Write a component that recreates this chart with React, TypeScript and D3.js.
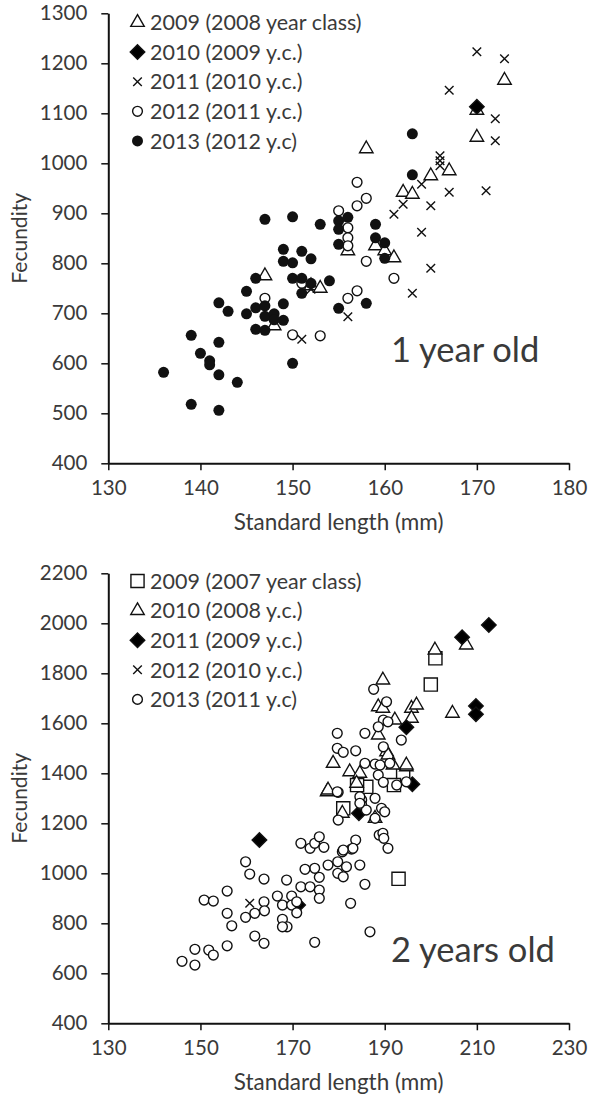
import { useEffect, useRef } from "react";
import * as d3 from "d3";

// ---- 1 year old panel: [standard length, fecundity]
const top2009 = [[158,1029],[173,1166],[170,1106],[170,1052],[167,985],[165,975],[162,942],[163,938],[156,825],[159,835],[160,825],[161,811],[148,675],[147,775],[152,755],[153,750]];
const top2010 = [[170,1113]];
const top2011 = [[170,1223],[173,1209],[167,1146],[172,1089],[172,1045],[166,1015],[166,1005],[166,995],[164,958],[167,942],[171,945],[162,918],[165,915],[161,898],[164,862],[165,790],[163,740],[156,693],[151,648],[152,748]];
const top2012 = [[157,962],[158,930],[157,915],[155,905],[156,871],[156,851],[156,835],[158,804],[150,657],[153,655],[147,730],[156,730],[157,745],[161,770],[151,760]];
const top2013 = [[136,582],[139,518],[139,656],[140,620],[141,605],[141,597],[142,721],[142,642],[142,577],[142,506],[143,704],[144,562],[145,744],[145,699],[146,711],[146,668],[147,715],[147,666],[147,694],[148,699],[148,687],[149,719],[149,686],[147,888],[150,893],[153,878],[155,885],[156,892],[155,868],[155,838],[159,878],[159,851],[160,841],[149,828],[151,824],[149,804],[150,801],[152,809],[150,600],[163,1059],[163,977],[150,770],[151,770],[152,760],[151,740],[154,765],[155,710],[158,720],[146,770],[160,810]];

// ---- 2 years old panel
const bot2009 = [[201,1860],[200,1755],[194,1393],[192,1353],[186,1346],[181,1260],[184,1353],[193,978]];
const bot2010 = [[189.6,1773],[188.6,1666],[189.6,1660],[195.8,1660],[196.9,1673],[188.6,1553],[190.4,1486],[178.8,1440],[190.7,1473],[191.8,1433],[194.7,1426],[182.4,1406],[184.6,1400],[183.9,1360],[177.5,1326],[180.8,1240],[187.9,1220],[207.7,1913],[200.9,1893],[204.7,1640],[192.2,1613],[195.8,1620],[194.7,1433],[177.7,1333]];
const bot2011 = [[212.6,1993],[206.8,1944],[209.8,1669],[209.8,1636],[194.7,1584],[196,1356],[184.4,1240],[162.8,1133],[171.2,873]];
const bot2012 = [[160.7,880]];
const bot2013 = [[146,648],[148.8,633],[148.8,696],[151.8,693],[152.8,673],[155.8,710],[156.8,790],[155.8,840],[155.8,929],[150.8,893],[152.8,889],[159.8,824],[161.8,840],[160.7,997],[159.8,1046],[161.8,749],[163.8,720],[163.8,977],[163.8,886],[163.9,850],[166.7,909],[167.8,873],[169.8,909],[169.8,873],[170.9,842],[170.9,886],[167.8,816],[168.8,786],[167.8,786],[168.7,973],[171.8,946],[173.8,946],[175.8,984],[174.8,1020],[172.7,1016],[175.8,933],[175.8,900],[171.8,1120],[173.8,1100],[174.8,1120],[176.8,1104],[175.8,1146],[177.7,1033],[179.8,1046],[179.8,1000],[181,986],[181.7,1026],[180.8,1086],[182.8,1097],[183.7,1133],[184.6,1033],[185.7,956],[182.6,880],[186.8,766],[174.8,724],[179.9,1324],[179.9,1213],[185,1293],[187.9,1300],[185,1273],[186,1253],[187.9,1220],[188.8,1153],[187.6,1736],[190.4,1686],[189.7,1613],[188.6,1586],[190.7,1606],[179.7,1560],[185.7,1560],[193.6,1533],[179.7,1500],[181,1484],[183.7,1490],[189.7,1506],[185.7,1440],[187.9,1437],[189,1433],[191.1,1440],[188.6,1393],[189.7,1364],[194.7,1366],[192.6,1353],[179.7,1326],[184.6,1306],[184.6,1280],[189.3,1260],[190,1246],[189.6,1160],[189.8,1140],[190.7,1100],[183.1,1100],[181,1093]];

const topLabels = ["2009 (2008 year class)", "2010 (2009 y.c.)", "2011 (2010 y.c.)", "2012 (2011 y.c.)", "2013 (2012 y.c)"];
const botLabels = ["2009 (2007 year class)", "2010 (2008 y.c.)", "2011 (2009 y.c.)", "2012 (2010 y.c.)", "2013 (2011 y.c)"];

const FONT = "Lato, 'Open Sans', sans-serif";
const TXT = "#3a3a3a";

const shapes: any = {
  triangle: { type: d3.symbolTriangle2, size: 130, fill: "white" },
  diamond: { type: d3.symbolDiamond2, size: 135, fill: "black" },
  cross: { type: d3.symbolX, size: 50, fill: "none" },
  circle: { type: d3.symbolCircle, size: 75, fill: "white" },
  dot: { type: d3.symbolCircle, size: 95, fill: "#111" },
  square: { type: d3.symbolSquare2, size: 220, fill: "white" },
};

function drawPanel(svg: any, cfg: any) {
  const x = d3.scaleLinear().domain(cfg.xDomain).range([108.3, 569]);
  const y = d3.scaleLinear().domain(cfg.yDomain).range([cfg.bottom, cfg.top]);
  const g = svg.append("g");

  const xAxis = g.append("g")
    .attr("transform", `translate(0, ${cfg.bottom})`)
    .call(d3.axisBottom(x).tickValues(cfg.xTicks).tickSize(7).tickSizeOuter(0).tickPadding(10).tickFormat(d3.format("d")));
  const yAxis = g.append("g")
    .attr("transform", `translate(108.3, 0)`)
    .call(d3.axisLeft(y).tickValues(cfg.yTicks).tickSize(7).tickSizeOuter(0).tickPadding(14).tickFormat(d3.format("d")));
  [xAxis, yAxis].forEach(a => {
    a.select(".domain").attr("stroke", "#111").attr("stroke-width", 2);
    a.selectAll(".tick line").attr("stroke", "#111").attr("stroke-width", 1.5);
    a.selectAll(".tick text").attr("fill", TXT).style("font-family", FONT).style("font-size", "20.5px");
  });

  // series, drawn in legend order
  cfg.series.forEach((s: any) => {
    const sh = shapes[s.shape];
    const sym = d3.symbol().type(sh.type).size(sh.size);
    g.append("g").selectAll("path")
      .data(s.data)
      .join("path")
      .attr("d", sym)
      .attr("transform", (d: any) => `translate(${x(d[0])}, ${y(d[1])})`)
      .attr("fill", sh.fill)
      .attr("stroke", s.shape === "dot" ? "none" : "#111")
      .attr("stroke-width", 1.4);
  });

  // legend
  const leg = g.append("g");
  cfg.series.forEach((s: any, i: number) => {
    const sh = shapes[s.shape];
    const yy = cfg.legendY + i * 29.6;
    leg.append("path")
      .attr("d", d3.symbol().type(sh.type).size(sh.size)())
      .attr("transform", `translate(137.5, ${yy})`)
      .attr("fill", sh.fill)
      .attr("stroke", s.shape === "dot" ? "none" : "#111")
      .attr("stroke-width", 1.4);
    leg.append("text")
      .attr("x", 150).attr("y", yy).attr("dy", "0.36em")
      .attr("fill", TXT).style("font-family", FONT).style("font-size", "21.5px")
      .text(cfg.labels[i]);
  });

  g.append("text")
    .attr("x", 338.6).attr("y", cfg.bottom + 67)
    .attr("text-anchor", "middle")
    .attr("fill", TXT).style("font-family", FONT).style("font-size", "22.5px")
    .text("Standard length (mm)");
  g.append("text")
    .attr("transform", `translate(27, ${(cfg.top + cfg.bottom) / 2}) rotate(-90)`)
    .attr("text-anchor", "middle")
    .attr("fill", TXT).style("font-family", FONT).style("font-size", "21px")
    .text("Fecundity");
  g.append("text")
    .attr("x", 391).attr("y", cfg.ageY)
    .attr("fill", TXT).style("font-family", FONT).style("font-size", "34.5px")
    .text(cfg.age);
}

export default function App() {
  const ref = useRef<SVGSVGElement>(null);

  useEffect(() => {
    const svg = d3.select(ref.current);
    svg.selectAll("*").remove();
    drawPanel(svg, {
      xDomain: [130, 180], yDomain: [400, 1300], top: 13.3, bottom: 463.3,
      xTicks: [130, 140, 150, 160, 170, 180], yTicks: d3.range(400, 1301, 100),
      legendY: 22.5, labels: topLabels, age: "1 year old", ageY: 362,
      series: [
        { shape: "triangle", data: top2009 },
        { shape: "diamond", data: top2010 },
        { shape: "cross", data: top2011 },
        { shape: "circle", data: top2012 },
        { shape: "dot", data: top2013 },
      ],
    });
    drawPanel(svg, {
      xDomain: [130, 230], yDomain: [400, 2200], top: 573.3, bottom: 1023.3,
      xTicks: [130, 150, 170, 190, 210, 230], yTicks: d3.range(400, 2201, 200),
      legendY: 581, labels: botLabels, age: "2 years old", ageY: 962,
      series: [
        { shape: "square", data: bot2009 },
        { shape: "triangle", data: bot2010 },
        { shape: "diamond", data: bot2011 },
        { shape: "cross", data: bot2012 },
        { shape: "circle", data: bot2013 },
      ],
    });
  }, []);

  return (
    <svg ref={ref} width={591} height={1103}
      style={{ position: "absolute", left: 0, top: 0, background: "white" }} />
  );
}
